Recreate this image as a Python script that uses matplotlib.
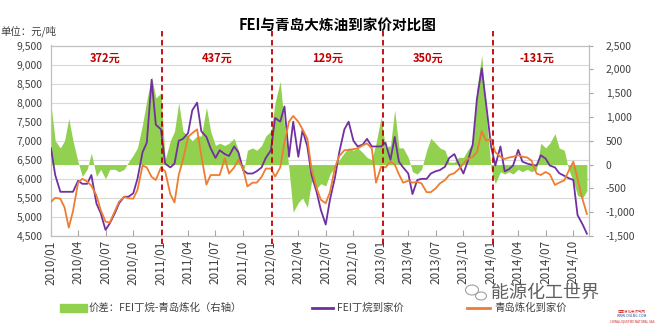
import numpy as np
import pandas as pd
import matplotlib
matplotlib.use("Agg")
import matplotlib.pyplot as plt
import matplotlib.dates as mdates
from matplotlib.transforms import blended_transform_factory
from matplotlib.patches import Rectangle, Ellipse
from matplotlib.lines import Line2D
from matplotlib.ticker import FuncFormatter, FixedLocator

plt.rcParams['font.family'] = ['Noto Sans CJK SC', 'DejaVu Sans']

# ---- data (semi-monthly readings, 2010/01 - 2014/11) ----
fei_price = [
    6800, 6100, 5660, 5660, 5660, 5660, 5950, 5870, 5870, 6100, 5350, 5100,
    4660, 4830, 5100, 5360, 5530, 5530, 5620, 6000, 6700, 6950, 8600, 7420,
    7300, 6400, 6300, 6400, 7000, 7050, 7200, 7800, 8000, 7250, 7100, 6800,
    6550, 6750, 6650, 6600, 6850, 6700, 6230, 6140, 6140, 6200, 6300, 6550,
    6750, 7600, 7500, 7900, 6580, 7500, 6580, 7280, 6850, 6100, 5650, 5180,
    4800, 5450, 6050, 6700, 7300, 7500, 7000, 6850, 6900, 7050, 6850, 6850,
    6850, 6950, 6500, 7100, 6450, 6300, 6140, 5600, 5970, 6000, 6000, 6140,
    6200, 6230, 6320, 6550, 6650, 6400, 6140, 6450, 6900, 8100, 8900, 8000,
    6850, 6350, 6850, 6200, 6250, 6350, 6760, 6450, 6400, 6370, 6350, 6620,
    6530, 6350, 6300, 6150, 6080, 6020, 5970, 5050, 4800, 4560,
]
qingdao_price = [
    5400, 5500, 5480, 5250, 4720, 5150, 5900, 6000, 5930, 5820, 5560, 5180,
    4880, 4850, 5150, 5400, 5530, 5490, 5480, 5710, 6350, 6300, 6050, 5970,
    6300, 6200, 5600, 5380, 6100, 6500, 7100, 7200, 7300, 6600, 5850, 6100,
    6100, 6100, 6540, 6140, 6300, 6500, 6250, 5800, 5900, 5900, 6050, 6270,
    6270, 6060, 6300, 6950, 7500, 7650, 7500, 7300, 7050, 6250, 5750, 5450,
    5360, 5650, 6300, 6600, 6750, 6760, 6780, 6800, 6880, 6930, 6800, 5900,
    6320, 6300, 6450, 6380, 6120, 5900, 5950, 5900, 5920, 5880, 5650, 5650,
    5750, 5880, 5970, 6100, 6150, 6250, 6400, 6520, 6580, 6700, 7250, 7000,
    7050, 6700, 6580, 6520, 6560, 6580, 6620, 6580, 6560, 6480, 6140, 6100,
    6180, 6120, 5840, 5900, 5960, 6200, 6450, 6000, 5450, 5080,
]
spread = [
    1250, 500, 350, 500, 970, 500, 50, -250, -100, 240, -250, -100,
    -300, -100, -100, -150, -100, 50, 200, 350, 850, 1350, 1850, 1400,
    1500, 100, 500, 700, 1300, 700, 600, 500, 600, 600, 1200, 700,
    400, 450, 400, 450, 550, 300, -200, 300, 350, 300, 400, 600,
    700, 1300, 1750, 800, -100, -1000, -800, -700, -900, -350, -500, -400,
    -450, -200, -50, 100, 250, 350, 300, 350, 250, 150, 100, 450,
    1000, 350, 400, 1150, 350, 350, 150, -150, -200, -100, 300, 550,
    450, 350, 300, 50, 50, 150, 150, 300, 450, 1600, 2300, 1100,
    -100, -400, -150, -200, -150, -200, -100, -150, -100, -150, -100, 450,
    350, 450, 650, 350, 300, -100, -350, -650, -700, -550,
]
dates = pd.date_range('2010-01-01', periods=len(fei_price), freq='SMS')

period_labels = ['372元', '437元', '129元', '350元', '-131元']
period_centers = pd.to_datetime(['2010-07-01', '2011-07-05', '2012-07-08',
                                 '2013-06-05', '2014-06-01'])
period_bounds = pd.to_datetime(['2011-01-06', '2012-01-04', '2013-01-06', '2014-01-06'])

left_ticks = list(range(4500, 10000, 500))
right_ticks = list(range(-1500, 3000, 500))

GREEN = '#92D050'
PURPLE = '#7030A0'
ORANGE = '#ED7D31'
RED = '#C00000'
TXT = '#404040'

W, H = 661, 328
fig = plt.figure(figsize=(W / 100, H / 100), dpi=100)
ax = fig.add_axes([51 / W, 1 - 236 / H, (589 - 51) / W, (236 - 45.5) / H])
ax2 = ax.twinx()
ax.set_zorder(ax2.get_zorder() + 1)
ax.patch.set_visible(False)

# gridlines (left-axis positions) drawn behind the green area
gt = blended_transform_factory(ax2.transAxes, ax.transData)
ax.set_ylim(4500, 9500)
for v in left_ticks:
    ax2.plot([0, 1], [v, v], transform=gt, color='#D9D9D9', lw=0.8, zorder=0)

ax2.fill_between(dates, 0, spread, color=GREEN, linewidth=0, zorder=1)
ax2.set_ylim(-1500, 2500)

ax.plot(dates, fei_price, color=PURPLE, lw=1.3, zorder=3)
ax.plot(dates, qingdao_price, color=ORANGE, lw=1.3, zorder=4)

ax.set_xlim(pd.Timestamp('2010-01-01'), pd.Timestamp('2014-11-22'))
ax.xaxis.set_major_locator(mdates.MonthLocator(bymonth=[1, 4, 7, 10]))
ax.xaxis.set_major_formatter(mdates.DateFormatter('%Y/%m'))
for lab in ax.get_xticklabels():
    lab.set_rotation(90)
ax.tick_params(axis='x', direction='in', length=4, color='#A6A6A6',
               labelsize=8.5, labelcolor=TXT, pad=3)

ax.yaxis.set_major_locator(FixedLocator(left_ticks))
ax.yaxis.set_major_formatter(FuncFormatter(lambda v, p: f"{int(v):,}"))
ax.tick_params(axis='y', length=0, labelsize=7.5, labelcolor=TXT, pad=6)

ax2.yaxis.set_major_locator(FixedLocator(right_ticks))
ax2.yaxis.set_major_formatter(FuncFormatter(lambda v, p: f"{int(v):,}"))
ax2.tick_params(axis='y', direction='out', length=3, color='#A6A6A6',
                labelsize=7.5, labelcolor=TXT, pad=9)

for a in (ax, ax2):
    for s in a.spines.values():
        s.set_color('#BFBFBF')
        s.set_linewidth(0.8)

# dividing dashed lines
bt = blended_transform_factory(ax.transData, fig.transFigure)
for d in period_bounds:
    ln = Line2D([d, d], [1 - 31 / H, 1 - 247 / H], transform=bt, color=RED,
                lw=1.3, ls=(0, (3, 2)), clip_on=False, zorder=6)
    ax.add_line(ln)

tt = blended_transform_factory(ax.transData, ax.transAxes)
for d, s in zip(period_centers, period_labels):
    ax.text(d, 0.934, s, transform=tt, ha='center', va='center',
            fontsize=8, fontweight='bold', color=RED, zorder=7)

fig.text(338 / W, 1 - 25 / H, 'FEI与青岛大炼油到家价对比图', ha='center', va='center',
         fontsize=10.5, fontweight='bold', color='#000000')
fig.text(0 / W, 1 - 31 / H, '单位：元/吨', ha='left', va='center',
         fontsize=7.5, color=TXT)

# legend (manual)
ly = 1 - 308 / H
fig.patches.append(Rectangle((60 / W, ly - 4 / H), 27 / W, 8 / H,
                             transform=fig.transFigure, color=GREEN))
fig.text(89 / W, ly, '价差：FEI丁烷-青岛炼化（右轴）', ha='left', va='center',
         fontsize=7.5, color=TXT)
fig.lines.append(Line2D([312 / W, 333 / W], [ly, ly], transform=fig.transFigure,
                        color=PURPLE, lw=2))
fig.text(337 / W, ly, 'FEI丁烷到家价', ha='left', va='center', fontsize=7.5, color=TXT)
fig.lines.append(Line2D([467 / W, 490 / W], [ly, ly], transform=fig.transFigure,
                        color=ORANGE, lw=2))
fig.text(494 / W, ly, '青岛炼化到家价', ha='left', va='center', fontsize=7.5, color=TXT)

# watermark
fig.patches.append(Ellipse((472 / W, 1 - 290 / H), 13 / W, 10 / H, transform=fig.transFigure,
                           fill=False, ec='#A0A0A0', lw=0.8))
fig.patches.append(Ellipse((481 / W, 1 - 296 / H), 11 / W, 8 / H, transform=fig.transFigure,
                           fill=False, ec='#A0A0A0', lw=0.8))
fig.text(491 / W, 1 - 293 / H, '能源化工世界', ha='left', va='center',
         fontsize=13, color='#606060')
fig.text(632 / W, 1 - 311 / H, '中国液化天然气网', ha='center', va='center',
         fontsize=2.5, color='#D02020')
fig.text(632 / W, 1 - 316 / H, 'WWW.CNLNG.COM', ha='center', va='center',
         fontsize=2.5, color='#2050A0')
fig.text(632 / W, 1 - 321 / H, 'CHINA LIQUEFIED NATURAL GAS', ha='center', va='center',
         fontsize=2.2, color='#D02020')

fig.savefig('out.png', dpi=100)
